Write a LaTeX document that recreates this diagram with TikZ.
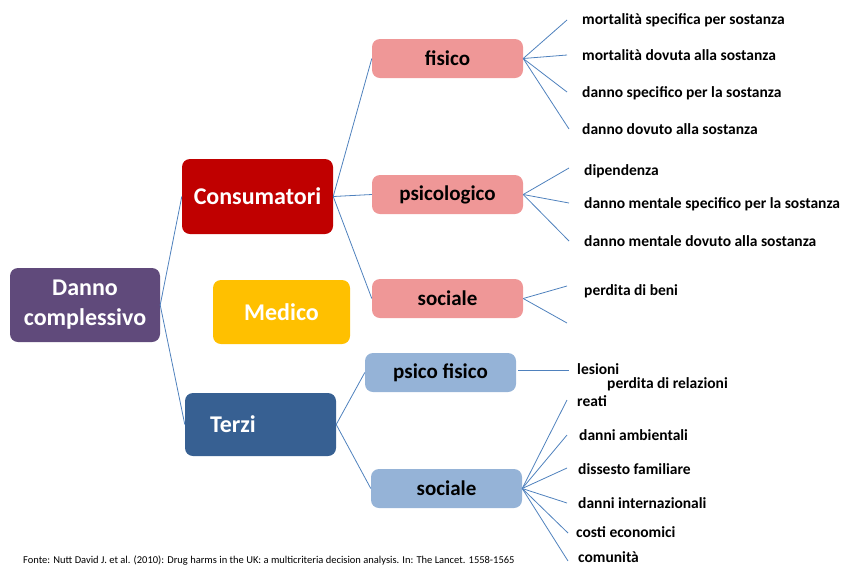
\documentclass[tikz,border=0pt]{standalone}
\usepackage{fontspec}
\setmainfont{Carlito}
\definecolor{cpurple}{HTML}{604A7B}
\definecolor{cred}{HTML}{C00000}
\definecolor{cgold}{HTML}{FFC000}
\definecolor{cblue}{HTML}{376092}
\definecolor{cpink}{HTML}{EF9797}
\definecolor{clblue}{HTML}{95B3D7}
\definecolor{cline}{HTML}{4F81BD}
\tikzset{
  box/.style={rounded corners=8pt, inner sep=0pt, align=center},
  mainbox/.style={box, text=white, font=\fontsize{24}{30}\selectfont\bfseries},
  subbox/.style={box, text=black, minimum width=151pt, minimum height=39pt, font=\fontsize{21}{25}\selectfont\bfseries},
  leaf/.style={anchor=west, inner sep=0pt, font=\fontsize{15.5}{18}\selectfont\bfseries},
  conn/.style={draw=cline, line width=0.8pt},
}
\begin{document}
\begin{tikzpicture}[x=1pt,y=-1pt]
\useasboundingbox (0,0) rectangle (851,566);
% main boxes
\node[mainbox, fill=cpurple, minimum width=150pt, minimum height=74pt] (danno) at (85,305) {Danno\\complessivo};
\node[mainbox, fill=cred, minimum width=151pt, minimum height=75pt] (cons) at (257.5,196.5) {Consumatori};
\node[mainbox, fill=cgold, minimum width=137pt, minimum height=64pt] (medico) at (281.5,312) {Medico};
\node[mainbox, fill=cblue, minimum height=63pt, text width=101pt, inner xsep=25pt, align=left] (terzi) at (260.5,424.5) {Terzi};
% sub boxes
\node[subbox, fill=cpink] (fisico) at (447.5,58.5) {fisico};
\node[subbox, fill=cpink] (psico) at (447.5,194.5) {psicologico};
\node[subbox, fill=cpink] (socc) at (447.5,298.5) {sociale};
\node[subbox, fill=clblue] (psf) at (440.5,372.5) {psico fisico};
\node[subbox, fill=clblue] (soct) at (446.5,488.5) {sociale};
% connector ends
\coordinate (f1) at (567,20); \coordinate (f2) at (567,55); \coordinate (f3) at (567,92); \coordinate (f4) at (569,129);
\coordinate (p1) at (569,168); \coordinate (p2) at (569,203); \coordinate (p3) at (569,241);
\coordinate (s1) at (567,286); \coordinate (s2) at (567,323);
\coordinate (q0) at (518,370); \coordinate (q1) at (569,370);
\coordinate (t1) at (567,400); \coordinate (t2) at (567,435); \coordinate (t3) at (567,468); \coordinate (t4) at (567,503); \coordinate (t5) at (568,533); \coordinate (t6) at (568,561);
% connectors
\draw[conn] (cons.west) -- (danno.east) -- (terzi.west);
\draw[conn] (fisico.west) -- (cons.east) -- (socc.west);
\draw[conn] (cons.east) -- (psico.west);
\draw[conn] (psf.west) -- (terzi.east) -- (soct.west);
\foreach \c in {f1,f2,f3,f4} \draw[conn] (fisico.east) -- (\c);
\foreach \c in {p1,p2,p3} \draw[conn] (psico.east) -- (\c);
\foreach \c in {s1,s2} \draw[conn] (socc.east) -- (\c);
\draw[conn] (q0) -- (q1);
\foreach \c in {t1,t2,t3,t4,t5,t6} \draw[conn] (soct.east) -- (\c);
% leaves
\node[leaf] (l1) at (582,20) {mortalità specifica per sostanza};
\node[leaf] (l2) at (582,55) {mortalità dovuta alla sostanza};
\node[leaf] (l3) at (582,93) {danno specifico per la sostanza};
\node[leaf] (l4) at (582,129) {danno dovuto alla sostanza};
\node[leaf] (l5) at (584,171) {dipendenza};
\node[leaf] (l6) at (584,204) {danno mentale specifico per la sostanza};
\node[leaf] (l7) at (584,241) {danno mentale dovuto alla sostanza};
\node[leaf] (l8) at (584,291) {perdita di beni};
\node[leaf] (l9) at (577,369) {lesioni};
\node[leaf] (l10) at (607,384) {perdita di relazioni};
\node[leaf] (l11) at (577,401) {reati};
\node[leaf] (l12) at (579,435) {danni ambientali};
\node[leaf] (l13) at (578,469) {dissesto familiare};
\node[leaf] (l14) at (578,503) {danni internazionali};
\node[leaf] (l15) at (576,532) {costi economici};
\node[leaf] (l16) at (578,557) {comunità};
\node[anchor=west, inner sep=0pt, font=\fontsize{10.5}{12}\selectfont] (fonte) at (23,561) {Fonte: Nutt David J. et al. (2010): Drug harms in the UK: a multicriteria decision analysis. In: The Lancet. 1558-1565};
\end{tikzpicture}
\end{document}
